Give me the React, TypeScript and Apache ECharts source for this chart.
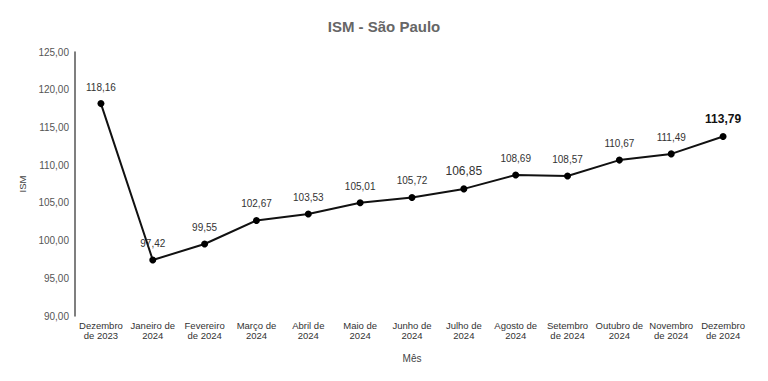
import React, { useEffect, useRef } from "react";
import * as echarts from "echarts";

const categories = [
  "Dezembro\nde 2023", "Janeiro de\n2024", "Fevereiro\nde 2024", "Março de\n2024",
  "Abril de\n2024", "Maio de\n2024", "Junho de\n2024", "Julho de\n2024",
  "Agosto de\n2024", "Setembro\nde 2024", "Outubro de\n2024", "Novembro\nde 2024", "Dezembro\nde 2024",
];
const values = [118.16, 97.42, 99.55, 102.67, 103.53, 105.01, 105.72, 106.85, 108.69, 108.57, 110.67, 111.49, 113.79];
const yMin = 90;
const yMax = 125;
const yStep = 5;

const fmt = (v: number) => v.toFixed(2).replace(".", ",");
const FONT = "Liberation Sans";

export default function App() {
  const ref = useRef<HTMLDivElement>(null);
  useEffect(() => {
    const chart = echarts.init(ref.current!, null, { renderer: "svg" });
    const data = values.map((v, i) => {
      const item: any = { value: v };
      if (i === 7) item.label = { fontSize: 12 };
      if (i === values.length - 1) item.label = { fontSize: 12, fontWeight: "bold", color: "#111" };
      return item;
    });
    chart.setOption({
      animation: false,
      backgroundColor: "#fff",
      title: {
        text: "ISM - São Paulo",
        left: "center",
        top: 14,
        textStyle: { fontFamily: FONT, fontSize: 15, fontWeight: "bold", color: "#666" },
      },
      grid: { left: 75, right: 19, top: 52, bottom: 65 },
      xAxis: {
        type: "category",
        data: categories,
        boundaryGap: true,
        name: "Mês",
        nameLocation: "middle",
        nameGap: 37,
        nameTextStyle: { fontFamily: FONT, fontSize: 10, color: "#444" },
        axisLine: { show: false },
        axisTick: { show: false },
        axisLabel: { fontFamily: FONT, fontSize: 9.5, color: "#333", lineHeight: 10, margin: 4, interval: 0 },
      },
      yAxis: {
        type: "value",
        min: yMin,
        max: yMax,
        interval: yStep,
        name: "ISM",
        nameLocation: "middle",
        nameGap: 48,
        nameTextStyle: { fontFamily: FONT, fontSize: 9.5, color: "#444" },
        axisLine: { show: true, lineStyle: { color: "#555", width: 1.5 } },
        axisTick: { show: false },
        splitLine: { show: false },
        axisLabel: { fontFamily: FONT, fontSize: 10, color: "#555", margin: 6, formatter: (v: number) => fmt(v) },
      },
      series: [
        {
          type: "line",
          data,
          symbol: "circle",
          symbolSize: 7,
          itemStyle: { color: "#000" },
          lineStyle: { color: "#111", width: 2 },
          label: {
            show: true,
            position: "top",
            distance: 8,
            fontFamily: FONT,
            fontSize: 10,
            color: "#333",
            formatter: (p: any) => fmt(p.value),
          },
        },
      ],
    });
    return () => chart.dispose();
  }, []);
  return <div ref={ref} style={{ position: "absolute", left: 0, top: 0, width: 768, height: 381 }} />;
}
